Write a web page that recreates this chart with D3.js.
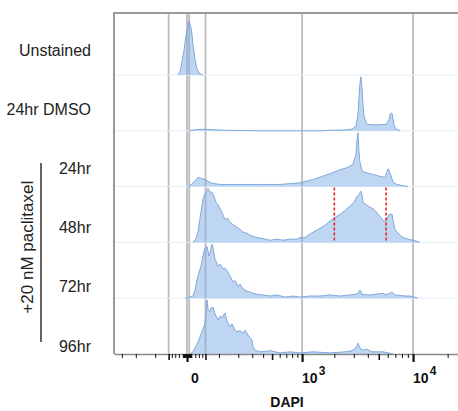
<!DOCTYPE html>
<html>
<head>
<meta charset="utf-8">
<script src="https://cdn.jsdelivr.net/npm/d3@7"></script>
<style>
  body { margin: 0; background: #fff; }
  svg { display: block; font-family: "Liberation Sans", Arial, sans-serif; }
</style>
</head>
<body>
<svg id="chart" width="458" height="411"></svg>
<script>
const width = 458;
const height = 411;
const marginTop = 13;
const marginLeft = 114;
const marginBottom = 57;

// sample names, top to bottom
const rows = ["Unstained", "24hr DMSO", "24hr", "48hr", "72hr", "96hr"];
const paclitaxelRows = ["24hr", "48hr", "72hr", "96hr"];

// histograms: [DAPI value, % of mode]
const unstained = [[-22, 0], [-17, 6], [-12, 24], [-7, 46], [-2.3, 74], [2.3, 93], [4.6, 100], [6.9, 93],
  [9.3, 87], [11.8, 74], [14.3, 56], [19.5, 28], [25, 11], [33, 2], [42, 0]];

const dmso24 = [[7, 0], [19.5, 2], [42, 3], [73, 2], [127, 1], [211, 0.5], [370, 0], [1477, 0], [1826, 1],
  [2500, 1.5], [2887, 3], [3136, 8], [3268, 30], [3336, 60], [3405, 88], [3476, 100], [3548, 80],
  [3622, 48], [3697, 28], [3852, 16], [4014, 12], [4356, 11], [5128, 11], [5794, 12], [6158, 20],
  [6284, 30], [6413, 33], [6544, 32], [6678, 22], [6814, 10], [7097, 3], [7695, 0]];

const pac24 = [[2.3, 0], [11.8, 5], [27.6, 17], [48.6, 13], [72.7, 6], [105, 4], [370, 4], [605, 4],
  [956, 7], [1271, 13], [1826, 24], [2250, 31], [2603, 35], [2948, 41], [3136, 60], [3201, 85],
  [3268, 100], [3336, 65], [3405, 45], [3548, 30], [3697, 27], [4181, 24], [5128, 19], [5677, 17],
  [5912, 28], [6034, 33], [6158, 30], [6413, 20], [6678, 8], [7241, 4], [8012, 2], [9039, 0]];

const pac48 = [[14.3, 0], [22, 7], [27.6, 20], [36, 56], [42, 80], [52, 94], [58.5, 100], [65.5, 93],
  [72.7, 93], [80, 85], [88, 74], [96, 70], [109, 59], [127, 43], [142, 44], [153, 37], [169, 33],
  [192, 28], [211, 24], [231, 19], [259, 17], [283, 13], [342, 9], [400, 7], [476, 4], [564, 6],
  [649, 4], [763, 6], [893, 6], [956, 9], [1067, 9], [1271, 19], [1477, 26], [1678, 33], [1946, 44],
  [2250, 52], [2500, 59], [2768, 67], [3013, 74], [3201, 85], [3336, 89], [3405, 92], [3476, 95],
  [3548, 89], [3622, 74], [3852, 70], [4181, 65], [4539, 61], [4927, 52], [5128, 48], [5451, 41],
  [5677, 39], [5912, 44], [6158, 52], [6544, 52], [6678, 41], [6954, 24], [7380, 17], [8170, 9],
  [9039, 6], [10000, 4], [11490, 0]];

const pac72 = [[-4.6, 0], [6.9, 2], [14.3, 4], [19.5, 15], [25, 35], [30.5, 48], [36, 59], [42, 78],
  [45.5, 87], [48.6, 93], [55, 96], [62, 78], [65.5, 85], [72.7, 100], [76.5, 93], [84, 72], [92, 65],
  [96, 59], [105, 63], [118, 54], [127, 56], [142, 48], [153, 41], [169, 30], [180, 33], [198, 22],
  [211, 26], [231, 17], [259, 13], [283, 11], [307, 9], [351, 7], [400, 6], [476, 4], [564, 6],
  [680, 2], [817, 4], [956, 2], [1190, 4], [1477, 4], [1826, 6], [2250, 4], [2768, 6], [3076, 7],
  [3268, 9], [3405, 15], [3548, 7], [4181, 6], [4635, 7], [5451, 9], [5794, 6], [6544, 11],
  [6954, 6], [8505, 4], [9400, 4], [11060, 0]];

const pac96 = [[6.9, 0], [14.3, 4], [19.5, 11], [27.6, 22], [33, 31], [42, 46], [48.6, 57], [52, 74],
  [55, 100], [58.5, 83], [65.5, 78], [69, 85], [76.5, 87], [84, 74], [96, 63], [105, 70], [114, 67],
  [127, 76], [137, 61], [153, 50], [163, 56], [180, 44], [192, 41], [211, 43], [231, 39], [245, 44],
  [267, 35], [283, 30], [298, 26], [307, 13], [324, 7], [370, 4], [476, 6], [605, 2], [763, 4],
  [956, 2], [1271, 4], [1826, 2], [2500, 4], [2887, 6], [3136, 11], [3268, 20], [3405, 11],
  [3622, 7], [3932, 9], [4356, 4], [5451, 4], [6678, 0]];

const series = [unstained, dmso24, pac24, pac48, pac72, pac96];

// vertical reference lines and the 48hr gate
const gridValues = [-50, 0, 5, 50, 1000, 10000];
const gateValues = [2000, 5800];

// axis ticks
const minorTicks = [-300, -200, -100, -40, -30, -20, -10, -9, -8, -7, -6, -5, -4, -3, -2, -1,
  1, 2, 3, 4, 5, 6, 7, 8, 9, 10, 20, 30, 40, 100, 200, 300, 400, 600, 700, 800, 900,
  2000, 3000, 4000, 6000, 7000, 8000, 9000, 20000];
const mediumTicks = [-50, 50, 500, 5000];
const majorTicks = [0, 1000, 10000];
const majorLabels = [{v: 0, base: "0", exp: ""}, {v: 1000, base: "10", exp: "3"}, {v: 10000, base: "10", exp: "4"}];

const svg = d3.select("#chart");

const x = d3.scaleSymlog()
  .constant(113)
  .domain([-370, 24600])
  .range([marginLeft, width]);

const axisY = height - marginBottom;
const rowStep = 55.8;
const baseline = (i) => axisY - (rows.length - 1 - i) * rowStep;
const peakHeight = 54;

const labelY = d3.scalePoint().domain(rows).range([50, 346]);

// grid lines
svg.append("g")
  .selectAll("line")
  .data(gridValues)
  .join("line")
  .attr("x1", (d) => x(d)).attr("x2", (d) => x(d))
  .attr("y1", marginTop).attr("y2", axisY)
  .attr("stroke", "#bcbcbc")
  .attr("stroke-width", 1.8);

// row baselines
svg.append("g")
  .selectAll("line")
  .data(rows.slice(0, -1))
  .join("line")
  .attr("x1", marginLeft).attr("x2", width)
  .attr("y1", (d, i) => baseline(i)).attr("y2", (d, i) => baseline(i))
  .attr("stroke", "#e3edf8")
  .attr("stroke-width", 1);

// histograms
series.forEach((data, i) => {
  const y = d3.scaleLinear().domain([0, 100]).range([baseline(i), baseline(i) - peakHeight]);
  const area = d3.area()
    .x((d) => x(d[0]))
    .y0(baseline(i))
    .y1((d) => y(d[1]));
  const line = d3.line()
    .x((d) => x(d[0]))
    .y((d) => y(d[1]));
  svg.append("path")
    .datum(data)
    .attr("d", area)
    .attr("fill", "rgba(128,174,230,0.5)");
  svg.append("path")
    .datum(data)
    .attr("d", line)
    .attr("fill", "none")
    .attr("stroke", "#80a8dc")
    .attr("stroke-width", 1);
});

// gate on 48hr
const gateRow = rows.indexOf("48hr");
svg.append("g")
  .selectAll("line")
  .data(gateValues)
  .join("line")
  .attr("x1", (d) => x(d)).attr("x2", (d) => x(d))
  .attr("y1", baseline(gateRow - 1) + 1).attr("y2", baseline(gateRow))
  .attr("stroke", "#e8262a")
  .attr("stroke-width", 1.6)
  .attr("stroke-dasharray", "3,2");

// frame
svg.append("path")
  .attr("d", `M${marginLeft},${axisY}V${marginTop}H${width}`)
  .attr("fill", "none")
  .attr("stroke", "#9a9a9a")
  .attr("stroke-width", 2);

// x axis
const axisG = svg.append("g").attr("transform", `translate(0,${axisY})`);
axisG.append("g")
  .call(d3.axisBottom(x).tickValues(minorTicks).tickSize(4).tickFormat("").tickSizeOuter(0))
  .call((g) => g.select(".domain").attr("stroke", "#8a8a8a").attr("stroke-width", 1.5))
  .call((g) => g.selectAll(".tick line").attr("stroke", "#111").attr("stroke-width", 1));
axisG.append("g")
  .call(d3.axisBottom(x).tickValues(mediumTicks).tickSize(6).tickFormat(""))
  .call((g) => g.select(".domain").remove())
  .call((g) => g.selectAll(".tick line").attr("stroke", "#111").attr("stroke-width", 1.6));
axisG.append("g")
  .call(d3.axisBottom(x).tickValues(majorTicks).tickSize(8).tickFormat(""))
  .call((g) => g.select(".domain").remove())
  .call((g) => g.selectAll(".tick line").attr("stroke", "#111").attr("stroke-width", 2.2));

const tickText = svg.append("g")
  .selectAll("text")
  .data(majorLabels)
  .join("text")
  .attr("x", (d) => x(d.v) + (d.exp ? 0 : 4))
  .attr("y", 383)
  .attr("font-size", 14)
  .attr("font-weight", "bold")
  .attr("fill", "#111");
tickText.append("tspan").text((d) => d.base);
tickText.append("tspan")
  .attr("font-size", 12)
  .attr("dy", -8)
  .attr("dx", 1)
  .text((d) => d.exp);

svg.append("text")
  .attr("x", 287)
  .attr("y", 407)
  .attr("text-anchor", "middle")
  .attr("font-size", 14)
  .attr("font-weight", "bold")
  .attr("fill", "#111")
  .text("DAPI");

// row labels
svg.append("g")
  .selectAll("text")
  .data(rows)
  .join("text")
  .attr("x", 91)
  .attr("y", (d) => labelY(d))
  .attr("dy", "0.35em")
  .attr("text-anchor", "end")
  .attr("font-size", 16)
  .attr("fill", "#222")
  .text((d) => d);

// paclitaxel bracket
svg.append("line")
  .attr("x1", 41).attr("x2", 41)
  .attr("y1", 163).attr("y2", 342)
  .attr("stroke", "#111")
  .attr("stroke-width", 1.3);

svg.append("text")
  .attr("transform", `translate(27,${(labelY(paclitaxelRows[0]) + labelY(paclitaxelRows[3])) / 2 - 10}) rotate(-90)`)
  .attr("text-anchor", "middle")
  .attr("dy", "0.35em")
  .attr("font-size", 17)
  .attr("fill", "#222")
  .text("+20 nM paclitaxel");
</script>
</body>
</html>
